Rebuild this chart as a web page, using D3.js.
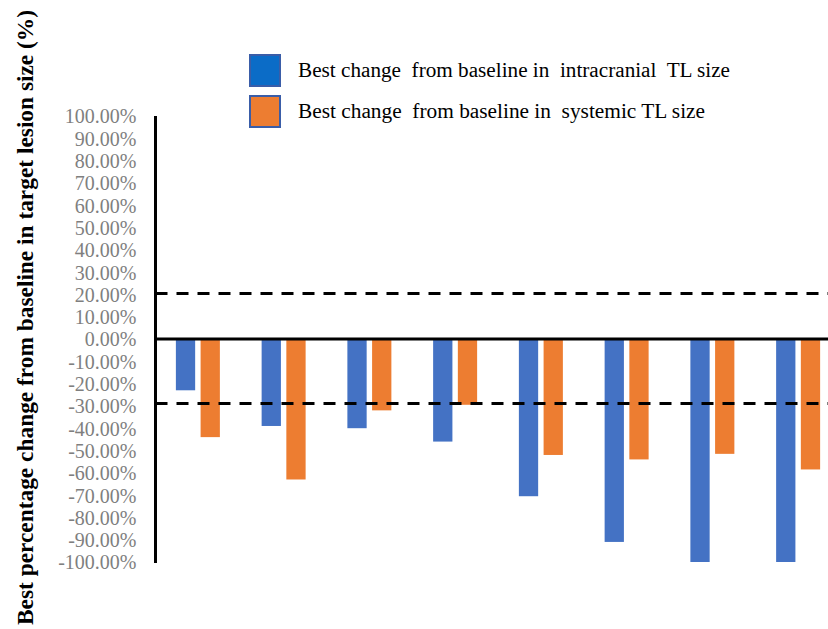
<!DOCTYPE html>
<html>
<head>
<meta charset="utf-8">
<script src="https://cdn.jsdelivr.net/npm/d3@7"></script>
<style>
  html, body { margin: 0; padding: 0; background: #ffffff; }
  svg { display: block; }
</style>
</head>
<body>
<div id="chart"></div>
<script>
// ---------- data ----------
const patients = ["P1", "P2", "P3", "P4", "P5", "P6", "P7", "P8"];
const intracranial = [-23, -39, -40, -46, -70.5, -91, -100, -100];
const systemic = [-44, -63, -32, -29.5, -52, -54, -51.5, -58.5];
const seriesNames = [
  "Best change  from baseline in  intracranial  TL size",
  "Best change  from baseline in  systemic TL size"
];
const tickValues = [100, 90, 80, 70, 60, 50, 40, 30, 20, 10, 0, -10, -20, -30, -40, -50, -60, -70, -80, -90, -100];
const thresholds = [20, -30];
const yTitle = "Best percentage change from baseline in target lesion size (%)";

// ---------- layout ----------
const W = 828, H = 629;
const barColors = ["#4472C4", "#ED7D31"];
const legendFill = ["#0B6CC7", "#ED7D31"];
const legendStroke = ["#3A5DA8", "#3A5DA8"];
const serif = "'Liberation Serif', 'Times New Roman', Times, serif";

const svg = d3.select("#chart").append("svg")
  .attr("width", W).attr("height", H)
  .attr("viewBox", `0 0 ${W} ${H}`);

const y = d3.scaleLinear().domain([-100, 100]).range([562, 116]);
const x0 = d3.scaleBand().domain(patients).range([155, 841])
  .paddingInner(0.487).paddingOuter(0.2435);
const x1 = d3.scaleBand().domain([0, 1]).range([0, x0.bandwidth()])
  .paddingInner(0.22).paddingOuter(0);

const axisX = 155.5;

// y tick labels
const yAxis = d3.axisLeft(y)
  .tickValues(tickValues)
  .tickFormat(d => d.toFixed(2) + "%")
  .tickSize(0)
  .tickPadding(19);
const gy = svg.append("g").attr("transform", `translate(${axisX},0)`).call(yAxis);
gy.attr("font-family", serif);
gy.select(".domain").remove();
gy.selectAll("text")
  .attr("font-family", serif)
  .attr("font-size", 20)
  .attr("fill", "#7f7f7f")
  .attr("dy", "0.33em")
  .attr("transform", "scale(1,1.05)");

// bars
const series = [intracranial, systemic];
const groups = svg.append("g").selectAll("g")
  .data(patients)
  .join("g")
  .attr("transform", d => `translate(${x0(d)},0)`);
groups.selectAll("rect")
  .data((d, i) => series.map((s, k) => ({ k, v: s[i] })))
  .join("rect")
  .attr("x", d => x1(d.k))
  .attr("width", x1.bandwidth())
  .attr("y", d => y(Math.max(0, d.v)))
  .attr("height", d => Math.abs(y(d.v) - y(0)))
  .attr("fill", d => barColors[d.k]);

// threshold dashed lines (drawn slightly above their nominal level as in the source)
svg.append("g").selectAll("line")
  .data(thresholds)
  .join("line")
  .attr("x1", axisX).attr("x2", W)
  .attr("y1", d => y(d) - (d < 0 ? 2.5 : 1)).attr("y2", d => y(d) - (d < 0 ? 2.5 : 1))
  .attr("stroke", "#000")
  .attr("stroke-width", 3)
  .attr("stroke-dasharray", "12,9");

// zero line
svg.append("line")
  .attr("x1", axisX).attr("x2", W)
  .attr("y1", y(0)).attr("y2", y(0))
  .attr("stroke", "#000").attr("stroke-width", 3);

// y axis line
svg.append("line")
  .attr("x1", axisX).attr("x2", axisX)
  .attr("y1", y(100)).attr("y2", y(-100) + 1)
  .attr("stroke", "#000").attr("stroke-width", 3);

// y title
svg.append("text")
  .attr("transform", "translate(33,625) rotate(-90)")
  .attr("font-family", serif)
  .attr("font-weight", "bold")
  .attr("font-size", 23)
  .attr("fill", "#000")
  .attr("textLength", 615)
  .attr("lengthAdjust", "spacingAndGlyphs")
  .text(yTitle);

// legend
const legendW = [432, 407];
const leg = svg.append("g").selectAll("g")
  .data(seriesNames)
  .join("g")
  .attr("transform", (d, i) => `translate(249,${54 + i * 41})`);
leg.append("rect")
  .attr("x", 1).attr("y", 1)
  .attr("width", 30).attr("height", 31)
  .attr("fill", (d, i) => legendFill[i])
  .attr("stroke", (d, i) => legendStroke[i])
  .attr("stroke-width", 2);
leg.append("text")
  .attr("x", 49).attr("y", 23)
  .attr("font-family", serif)
  .attr("font-size", 20.5)
  .attr("fill", "#000")
  .style("white-space", "pre")
  .attr("textLength", (d, i) => legendW[i])
  .attr("lengthAdjust", "spacingAndGlyphs")
  .text(d => d);
</script>
</body>
</html>
